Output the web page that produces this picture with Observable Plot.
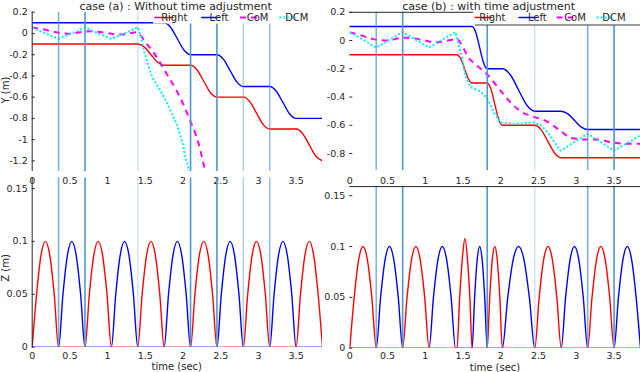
<!DOCTYPE html>
<html><head><meta charset="utf-8">
<script src="https://cdn.jsdelivr.net/npm/d3@7"></script>
<script src="https://cdn.jsdelivr.net/npm/@observablehq/plot@0.6"></script>
<style>
html,body{margin:0;padding:0;background:#fff;}
#wrap{position:relative;width:640px;height:372px;overflow:hidden;background:#fff;}
#wrap > svg{position:absolute;}
</style></head><body><div id="wrap"></div>
<script>
// ---------- data ----------
const xTicks = [0, 0.5, 1, 1.5, 2, 2.5, 3, 3.5];
const yTicksA = [0.2, 0, -0.2, -0.4, -0.6, -0.8, -1, -1.2];
const yTicksB = [0.2, 0, -0.2, -0.4, -0.6, -0.8];
const zTicks = [0, 0.05, 0.1, 0.15];
const seriesNames = ["Right", "Left", "CoM", "DCM"];
const titleA = "case (a) : Without time adjustment";
const titleB = "case (b) : with time adjustment";
const xLabel = "time (sec)";
const yLabel = "Y (m)";
const zLabel = "Z (m)";

// step (touch-down) times
const eventsA = [0.35, 0.7, 1.4, 2.1, 2.45, 2.8, 3.15];
const eventsB = [0.35, 0.7, 1.82, 2.45, 3.15, 3.5];

// case (a) lateral (Y) trajectories  [time, value]
const rightYA = [[0,-0.1],[1.4,-0.1],[1.4875,-0.129],[1.575,-0.2],[1.6625,-0.271],[1.75,-0.3],[2.1,-0.3],[2.1875,-0.344],[2.275,-0.45],[2.3625,-0.556],[2.45,-0.6],[2.8,-0.6],[2.8875,-0.644],[2.975,-0.75],[3.0625,-0.856],[3.15,-0.9],[3.5,-0.9],[3.5875,-0.944],[3.675,-1.05],[3.7625,-1.156],[3.85,-1.2]];
const leftYA = [[0,0.1],[1.75,0.1],[1.8375,0.056],[1.925,-0.05],[2.0125,-0.156],[2.1,-0.2],[2.45,-0.2],[2.5375,-0.244],[2.625,-0.35],[2.7125,-0.456],[2.8,-0.5],[3.15,-0.5],[3.2375,-0.544],[3.325,-0.65],[3.4125,-0.756],[3.5,-0.8],[3.85,-0.8]];
const comYA = [[0,0.055],[0.1,0.045],[0.2,0.03],[0.3,0.013],[0.4,0.002],[0.5,-0.003],[0.6,0.006],[0.7,0.018],[0.8,0.02],[0.9,0.013],[1.0,0.003],[1.1,-0.008],[1.2,-0.01],[1.3,0.002],[1.38,0.012],[1.45,-0.03],[1.5,-0.08],[1.6,-0.17],[1.7,-0.28],[1.8,-0.4],[1.9,-0.52],[2.0,-0.66],[2.1,-0.83],[2.2,-1.02],[2.25,-1.16],[2.3,-1.32]];
const dcmYA = [[0,0.055],[0.175,0.0],[0.35,-0.05],[0.525,0.0],[0.7,0.055],[0.875,0.0],[1.05,-0.05],[1.225,0.0],[1.4,0.06],[1.44,-0.02],[1.48,-0.16],[1.53,-0.28],[1.59,-0.41],[1.66,-0.49],[1.75,-0.6],[1.83,-0.72],[1.92,-0.86],[1.99,-1.02],[2.03,-1.16],[2.09,-1.31]];

// case (b) lateral (Y) trajectories
const rightYB = [[0,-0.1],[1.42,-0.1],[1.47,-0.129],[1.52,-0.2],[1.57,-0.271],[1.62,-0.3],[1.82,-0.3],[1.87,-0.344],[1.92,-0.45],[1.97,-0.556],[2.02,-0.6],[2.45,-0.6],[2.5375,-0.634],[2.625,-0.715],[2.7125,-0.796],[2.8,-0.83],[3.85,-0.83]];
const leftYB = [[0,0.1],[1.62,0.1],[1.67,0.056],[1.72,-0.05],[1.77,-0.156],[1.82,-0.2],[2.02,-0.2],[2.1275,-0.244],[2.235,-0.35],[2.3425,-0.456],[2.45,-0.5],[2.8,-0.5],[2.8875,-0.519],[2.975,-0.565],[3.0625,-0.611],[3.15,-0.63],[3.85,-0.63]];
const comYB = [[0,0.057],[0.1,0.045],[0.2,0.028],[0.3,0.012],[0.4,0.003],[0.5,0.0],[0.6,0.01],[0.7,0.02],[0.8,0.02],[0.9,0.01],[1.0,0.0],[1.1,-0.012],[1.2,-0.01],[1.3,0.0],[1.42,0.01],[1.5,-0.05],[1.56,-0.11],[1.69,-0.18],[1.82,-0.24],[2.02,-0.37],[2.15,-0.45],[2.29,-0.51],[2.44,-0.54],[2.62,-0.575],[2.79,-0.64],[2.93,-0.69],[3.1,-0.7],[3.28,-0.7],[3.46,-0.72],[3.63,-0.73],[3.85,-0.73]];
const dcmYB = [[0,0.059],[0.175,0.005],[0.35,-0.05],[0.525,0.005],[0.7,0.06],[0.875,0.005],[1.05,-0.05],[1.225,0.005],[1.4,0.06],[1.48,-0.11],[1.53,-0.25],[1.6,-0.33],[1.73,-0.36],[1.82,-0.41],[1.91,-0.51],[2.0,-0.58],[2.18,-0.59],[2.44,-0.58],[2.53,-0.6],[2.62,-0.65],[2.79,-0.78],[3.15,-0.66],[3.5,-0.78],[3.85,-0.67]];

// case (a) foot height (Z)
const rightZA = [[0,0],[0.058,0.05],[0.117,0.087],[0.175,0.1],[0.233,0.087],[0.292,0.05],[0.35,0],
 [0.7,0],[0.758,0.05],[0.817,0.087],[0.875,0.1],[0.933,0.087],[0.992,0.05],[1.05,0],
 [1.4,0],[1.458,0.05],[1.517,0.087],[1.575,0.1],[1.633,0.087],[1.692,0.05],[1.75,0],
 [2.1,0],[2.158,0.05],[2.217,0.087],[2.275,0.1],[2.333,0.087],[2.392,0.05],[2.45,0],
 [2.8,0],[2.858,0.05],[2.917,0.087],[2.975,0.1],[3.033,0.087],[3.092,0.05],[3.15,0],
 [3.5,0],[3.558,0.05],[3.617,0.087],[3.675,0.1],[3.733,0.087],[3.792,0.05],[3.85,0]];
const leftZA = [[0,0],[0.35,0],[0.408,0.05],[0.467,0.087],[0.525,0.1],[0.583,0.087],[0.642,0.05],[0.7,0],
 [1.05,0],[1.108,0.05],[1.167,0.087],[1.225,0.1],[1.283,0.087],[1.342,0.05],[1.4,0],
 [1.75,0],[1.808,0.05],[1.867,0.087],[1.925,0.1],[1.983,0.087],[2.042,0.05],[2.1,0],
 [2.45,0],[2.508,0.05],[2.567,0.087],[2.625,0.1],[2.683,0.087],[2.742,0.05],[2.8,0],
 [3.15,0],[3.208,0.05],[3.267,0.087],[3.325,0.1],[3.383,0.087],[3.442,0.05],[3.5,0],[3.85,0]];

// case (b) foot height (Z)
const rightZB = [[0,0],[0.058,0.05],[0.117,0.087],[0.175,0.1],[0.233,0.087],[0.292,0.05],[0.35,0],
 [0.7,0],[0.758,0.05],[0.817,0.087],[0.875,0.1],[0.933,0.087],[0.992,0.05],[1.05,0],
 [1.42,0],[1.455,0.05],[1.49,0.088],[1.525,0.108],[1.558,0.088],[1.59,0.05],[1.62,0],
 [1.82,0],[1.853,0.05],[1.887,0.087],[1.92,0.1],[1.953,0.087],[1.987,0.05],[2.02,0],
 [2.45,0],[2.508,0.05],[2.567,0.087],[2.625,0.1],[2.683,0.087],[2.742,0.05],[2.8,0],
 [3.15,0],[3.208,0.05],[3.267,0.087],[3.325,0.1],[3.383,0.087],[3.442,0.05],[3.5,0],[3.85,0]];
const leftZB = [[0,0],[0.35,0],[0.408,0.05],[0.467,0.087],[0.525,0.1],[0.583,0.087],[0.642,0.05],[0.7,0],
 [1.05,0],[1.108,0.05],[1.167,0.087],[1.225,0.1],[1.283,0.087],[1.342,0.05],[1.4,0],
 [1.62,0],[1.653,0.05],[1.687,0.087],[1.72,0.1],[1.753,0.087],[1.787,0.05],[1.82,0],
 [2.02,0],[2.092,0.05],[2.163,0.087],[2.235,0.1],[2.307,0.087],[2.378,0.05],[2.45,0],
 [2.8,0],[2.858,0.05],[2.917,0.087],[2.975,0.1],[3.033,0.087],[3.092,0.05],[3.15,0],
 [3.5,0],[3.558,0.05],[3.617,0.087],[3.675,0.1],[3.733,0.087],[3.792,0.05],[3.85,0]];

// ---------- styles ----------
const FONT = "DejaVu Sans, sans-serif";
const styleOf = {
  Right: {stroke: "#ff0000", width: 1.4, dash: null, cap: "round"},
  Left:  {stroke: "#0000ff", width: 1.4, dash: null, cap: "round"},
  CoM:   {stroke: "#ff00ff", width: 2, dash: "6,5", cap: "butt"},
  DCM:   {stroke: "#00f0ff", width: 2, dash: "2,2", cap: "butt"}
};
const eventColor = "#4f96d2";
const eventShadeA = [0.75, 1, 0.25, 1, 1, 0.45, 0.6];
const eventShadeB = [0.7, 1, 1, 0.25, 0.75, 1];
const xDomain = [0, 3.85];

function lineMark(data, name, curve) {
  const s = styleOf[name];
  return Plot.line(data, {x: d => d[0], y: d => d[1], stroke: s.stroke, strokeWidth: s.width,
    strokeDasharray: s.dash, strokeLinecap: s.cap, curve, clip: true});
}
function eventMarks(events, shade) {
  const rows = events.map((t, i) => ({t, o: shade[i]}));
  return Plot.ruleX(rows, {x: "t", stroke: eventColor, strokeWidth: 1.6, strokeOpacity: "o"});
}

function panel(o) {
  const marks = [...o.marks];
  if (o.axisLine) marks.push(Plot.ruleX([o.xd[0]], {stroke: "#262626", strokeWidth: 1}));
  if (o.topLine) marks.push(Plot.ruleY([o.yd[1]], {stroke: "#262626", strokeWidth: 1}));
  marks.push(Plot.axisX(xTicks, {tickSize: 0, tickPadding: o.xpad, tickFormat: d => String(d), label: null}));
  marks.push(Plot.axisY(o.yticks, {tickSize: -3, tickPadding: 7.5, tickFormat: d => String(d), label: null}));
  const svg = Plot.plot({
    width: o.width, height: o.height,
    marginLeft: o.ml, marginRight: o.mr, marginTop: o.mt, marginBottom: o.mb,
    style: {background: "transparent", fontFamily: FONT, fontSize: "9.5px", color: "#262626", overflow: "visible"},
    x: {domain: o.xd}, y: {domain: o.yd},
    marks
  });
  svg.style.left = o.left + "px";
  svg.style.top = o.top + "px";
  document.getElementById("wrap").appendChild(svg);
  return d3.select(svg);
}

function legend(sel, ox, box, items, boxLine) {
  const g = sel.append("g");
  g.append("rect").attr("x", box[0] - ox).attr("y", box[1]).attr("width", box[2] - box[0])
    .attr("height", box[3] - box[1]).attr("fill", "#fff");
  if (boxLine) g.append("line").attr("x1", box[0] - ox + 2).attr("x2", box[2] - ox).attr("y1", box[3]).attr("y2", box[3])
    .attr("stroke", "#3a3a3a").attr("stroke-width", 1.2);
  items.forEach(([name, x1, x2, tx]) => {
    const s = styleOf[name];
    g.append("line").attr("x1", x1 - ox).attr("x2", x2 - ox).attr("y1", 17.5).attr("y2", 17.5)
      .attr("stroke", s.stroke).attr("stroke-width", s.width).attr("stroke-dasharray", s.dash)
      .attr("stroke-linecap", s.cap);
    g.append("text").attr("x", tx - ox).attr("y", 17.5).attr("dy", "0.35em").text(name)
      .attr("font-family", FONT).attr("font-size", "10px").attr("fill", "#262626");
  });
}
function text(sel, x, y, str, size, rotate) {
  const t = sel.append("text").attr("font-family", FONT).attr("font-size", size).attr("fill", "#262626")
    .attr("text-anchor", "middle").text(str);
  if (rotate) t.attr("transform", `translate(${x},${y}) rotate(-90)`); else t.attr("x", x).attr("y", y);
}

// Top-left: case (a) Y
const tl = panel({left: 0, top: 0, width: 330, height: 190, ml: 31.7, mr: 8, mt: 11.7, mb: 19,
  xd: xDomain, yd: [-1.3, 0.2], yticks: yTicksA, xpad: 5.5, axisLine: true,
  marks: [lineMark(rightYA, "Right", "monotone-x"), lineMark(leftYA, "Left", "monotone-x"),
          lineMark(comYA, "CoM", "monotone-x"), lineMark(dcmYA, "DCM", "linear"),
          eventMarks(eventsA, eventShadeA)]});
legend(tl, 0, [153, 9.5, 322, 23.5], [["Right",155,173,174.3],["Left",201.7,218.3,219],["CoM",240,257,257.6],["DCM",279.3,296,296.8]], false);
text(tl, 175.6, 9.6, titleA, "11px");
text(tl, 8.5, 90, yLabel, "10px", true);

// Top-right: case (b) Y
const tr = panel({left: 320, top: 0, width: 320, height: 190, ml: 29.3, mr: 0, mt: 11.8, mb: 20,
  xd: xDomain, yd: [-0.92, 0.2], yticks: yTicksB, xpad: 6.5, topLine: true,
  marks: [lineMark(rightYB, "Right", "monotone-x"), lineMark(leftYB, "Left", "monotone-x"),
          lineMark(comYB, "CoM", "monotone-x"), lineMark(dcmYB, "DCM", "linear"),
          eventMarks(eventsB, eventShadeB)]});
legend(tr, 320, [473, 9.5, 640, 25], [["Right",475,491.7,492.3],["Left",519,536.7,537.3],["CoM",556.7,573.3,575],["DCM",596.7,613.3,614]], true);
text(tr, 168.7, 9.6, titleB, "11px");

// Bottom-left: case (a) Z
const bl = panel({left: 0, top: 170, width: 330, height: 202, ml: 31.7, mr: 8, mt: 7.4, mb: 25.3,
  xd: xDomain, yd: [0, 0.16], yticks: zTicks, xpad: 4.8, axisLine: true,
  marks: [lineMark(leftZA, "Left", "monotone-x"), lineMark(rightZA, "Right", "monotone-x"),
          eventMarks(eventsA, eventShadeA)]});
text(bl, 176.8, 200, xLabel, "10px");
text(bl, 8.5, 98, zLabel, "10px", true);

// Bottom-right: case (b) Z
const br = panel({left: 320, top: 170, width: 320, height: 202, ml: 29.3, mr: 0, mt: 16.1, mb: 24.3,
  xd: xDomain, yd: [0, 0.159], yticks: zTicks, xpad: 3.8, topLine: true,
  marks: [lineMark(leftZB, "Left", "monotone-x"), lineMark(rightZB, "Right", "monotone-x"),
          eventMarks(eventsB, eventShadeB)]});
text(br, 175, 201, xLabel, "10px");
</script></body></html>
